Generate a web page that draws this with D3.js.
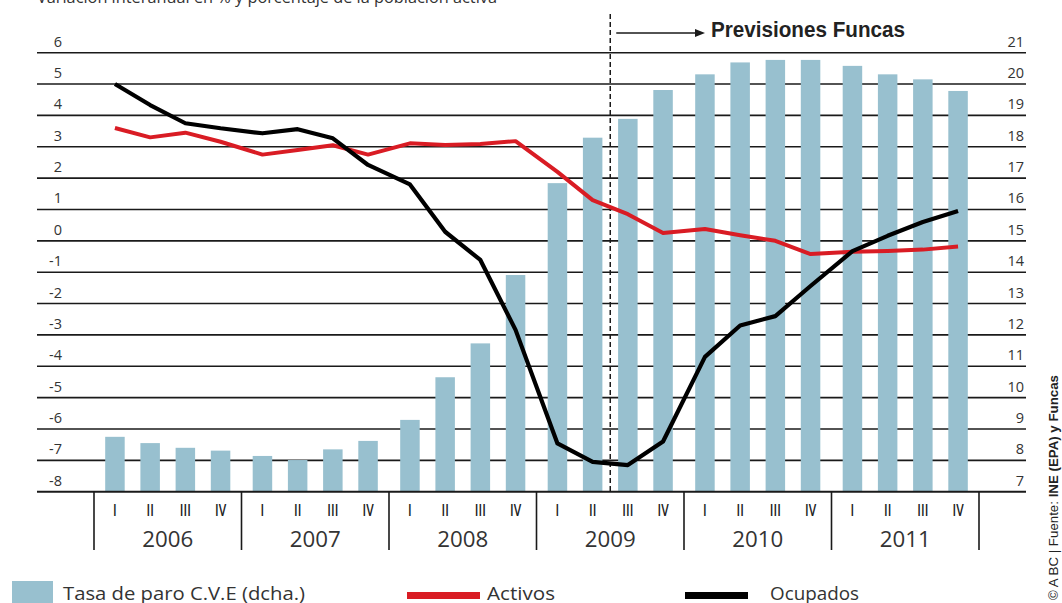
<!DOCTYPE html>
<html><head><meta charset="utf-8">
<script src="https://cdn.jsdelivr.net/npm/d3@7"></script>
<style>html,body{margin:0;padding:0;background:#fff;overflow:hidden}svg{display:block}</style>
</head><body>
<svg id="c" width="1062" height="603"></svg>
<script>
const years = ["2006","2007","2008","2009","2010","2011"];
const quarters = ["I","II","III","IV"];
const paro = [8.75,8.55,8.40,8.31, 8.14,8.01,8.35,8.62, 9.29,10.65,11.73,13.91, 16.84,18.29,18.89,19.81, 20.31,20.69,20.77,20.77, 20.58,20.31,20.15,19.78];
const activos = [3.6,3.3,3.45,3.16, 2.75,2.9,3.05,2.75, 3.11,3.06,3.09,3.18, 2.2,1.3,0.85,0.25, 0.38,0.18,0.0,-0.42, -0.35,-0.32,-0.28,-0.18];
const ocupados = [5.0,4.33,3.75,3.59, 3.43,3.56,3.27,2.42, 1.8,0.29,-0.61,-2.84, -6.46,-7.05,-7.15,-6.4, -3.7,-2.7,-2.4,-1.44, -0.33,0.16,0.6,0.95];
const leftTicks = [6,5,4,3,2,1,0,-1,-2,-3,-4,-5,-6,-7,-8];
const rightTicks = [21,20,19,18,17,16,15,14,13,12,11,10,9,8,7];
const forecastStart = 14; // index of first forecast quarter (2009 III)

const svg = d3.select("#c");
const gridL = 37, gridR = 1026, plotTop = 52.7, plotBottom = 491.7;
const yL = d3.scaleLinear().domain([-8,6]).range([plotBottom, plotTop]);
const yR = d3.scaleLinear().domain([7,21]).range([plotBottom, plotTop]);
const xYear = d3.scaleBand().domain(years).range([94,979]);
const xQ = d3.scalePoint().domain(quarters).range([0, xYear.bandwidth()]).padding(0.595);
const data = [];
years.forEach((y,i)=>quarters.forEach((q,j)=>{
  const k=i*4+j;
  data.push({year:y,q:q,paro:paro[k],activos:activos[k],ocupados:ocupados[k],x:xYear(y)+xQ(q)});
}));
const font = "'Open Sans', 'DejaVu Sans', sans-serif";

// title (cut off at top)
svg.append("text").attr("x",37).attr("y",3).attr("font-family",font).attr("font-size",16)
  .attr("fill","#333").attr("textLength",460).attr("lengthAdjust","spacingAndGlyphs")
  .text("Variación interanual en % y porcentaje de la población activa");

// grid lines
svg.append("g").selectAll("line").data(leftTicks).join("line")
  .attr("x1",gridL).attr("x2",gridR).attr("y1",d=>yL(d)).attr("y2",d=>yL(d))
  .attr("stroke","#1a1a1a").attr("stroke-width",1.6);

// left labels
svg.append("g").selectAll("text").data(leftTicks).join("text")
  .attr("x",62).attr("y",d=>yL(d)-6).attr("text-anchor","end")
  .attr("font-family",font).attr("font-size",14.5).attr("fill","#333")
  .text(d=>d);
// right labels
svg.append("g").selectAll("text").data(rightTicks).join("text")
  .attr("x",1024).attr("y",d=>yR(d)-6).attr("text-anchor","end")
  .attr("font-family",font).attr("font-size",14.5).attr("fill","#333")
  .text(d=>d);

// bars
const bw = 19.5;
svg.append("g").selectAll("rect").data(data).join("rect")
  .attr("x",d=>d.x-bw/2).attr("width",bw)
  .attr("y",d=>yR(d.paro)).attr("height",d=>yR(7)-yR(d.paro))
  .attr("fill","#98c0cf");

// bottom axis line
svg.append("line").attr("x1",gridL).attr("x2",gridR).attr("y1",plotBottom).attr("y2",plotBottom)
  .attr("stroke","#1a1a1a").attr("stroke-width",1.8);

// year separators
const bounds = years.map(y=>xYear(y)).concat([xYear.range()[1]]);
svg.append("g").selectAll("line").data(bounds).join("line")
  .attr("x1",d=>d).attr("x2",d=>d).attr("y1",plotBottom).attr("y2",550)
  .attr("stroke","#1a1a1a").attr("stroke-width",1.6);

// quarter labels
svg.append("g").selectAll("text").data(data).join("text")
  .attr("x",d=>d.x).attr("y",516).attr("text-anchor","middle")
  .attr("font-family",font).attr("font-weight",600).attr("font-size",16).attr("fill","#222")
  .attr("transform",d=>`translate(${d.x},0) scale(0.75,1) translate(${-d.x},0)`)
  .text(d=>d.q);
// year labels
svg.append("g").selectAll("text").data(years).join("text")
  .attr("x",d=>xYear(d)+xYear.bandwidth()/2).attr("y",547).attr("text-anchor","middle")
  .attr("font-family",font).attr("font-size",21).attr("fill","#333")
  .attr("textLength",51).attr("lengthAdjust","spacingAndGlyphs")
  .text(d=>d);

// dashed forecast line
const xf = (data[forecastStart-1].x + data[forecastStart].x)/2;
svg.append("line").attr("x1",xf).attr("x2",xf).attr("y1",14).attr("y2",plotBottom)
  .attr("stroke","#1a1a1a").attr("stroke-width",1.5).attr("stroke-dasharray","5,3");
// arrow
svg.append("line").attr("x1",xf+6).attr("x2",697).attr("y1",33).attr("y2",33)
  .attr("stroke","#1a1a1a").attr("stroke-width",1.5);
svg.append("path").attr("d","M695,29 L705,33 L695,37 Z").attr("fill","#1a1a1a");
svg.append("text").attr("x",711).attr("y",37).attr("font-family","'Liberation Sans', Arial, sans-serif")
  .attr("font-weight","bold").attr("font-size",22).attr("fill","#222")
  .attr("textLength",194).attr("lengthAdjust","spacingAndGlyphs").text("Previsiones Funcas");

// lines
const lineA = d3.line().x(d=>d.x).y(d=>yL(d.activos));
const lineO = d3.line().x(d=>d.x).y(d=>yL(d.ocupados));
svg.append("path").datum(data).attr("d",lineA).attr("fill","none")
  .attr("stroke","#d91c24").attr("stroke-width",4).attr("stroke-linejoin","round");
svg.append("path").datum(data).attr("d",lineO).attr("fill","none")
  .attr("stroke","#000").attr("stroke-width",4.2).attr("stroke-linejoin","round");

// legend
svg.append("rect").attr("x",12).attr("y",581).attr("width",41).attr("height",25).attr("fill","#98c0cf");
svg.append("text").attr("x",63).attr("y",600).attr("font-family",font).attr("font-size",19).attr("fill","#333")
  .attr("textLength",242).attr("lengthAdjust","spacingAndGlyphs").text("Tasa de paro C.V.E (dcha.)");
svg.append("rect").attr("x",407).attr("y",592).attr("width",73).attr("height",7).attr("fill","#d91c24");
svg.append("text").attr("x",487).attr("y",600).attr("font-family",font).attr("font-size",19).attr("fill","#333")
  .attr("textLength",68).attr("lengthAdjust","spacingAndGlyphs").text("Activos");
svg.append("rect").attr("x",685).attr("y",592).attr("width",63).attr("height",7).attr("fill","#000");
svg.append("text").attr("x",770).attr("y",600).attr("font-family",font).attr("font-size",19).attr("fill","#333")
  .attr("textLength",89).attr("lengthAdjust","spacingAndGlyphs").text("Ocupados");

// credit
const credit = svg.append("text").attr("transform","translate(1058,600) rotate(-90)")
  .attr("font-family","'Liberation Sans', Arial, sans-serif").attr("font-size",12.5).attr("fill","#222")
  .attr("textLength",225).attr("lengthAdjust","spacingAndGlyphs");
credit.append("tspan").text("© A BC | Fuente: ");
credit.append("tspan").attr("font-weight","bold").text("INE (EPA) y Funcas");
</script>
</body></html>
